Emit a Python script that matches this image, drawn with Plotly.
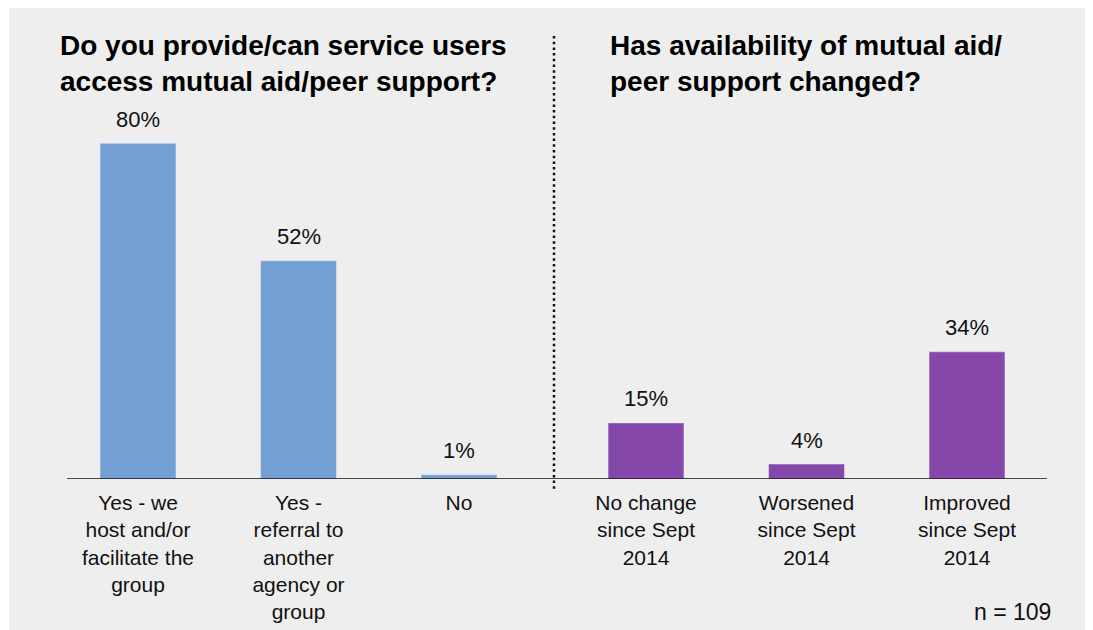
import plotly.graph_objects as go

# ---- data ----
left_categories = [
    "Yes - we<br>host and/or<br>facilitate the<br>group",
    "Yes -<br>referral to<br>another<br>agency or<br>group",
    "No",
]
left_values = [80, 52, 1]

right_categories = [
    "No change<br>since Sept<br>2014",
    "Worsened<br>since Sept<br>2014",
    "Improved<br>since Sept<br>2014",
]
right_values = [15, 4, 34]

left_title = "Do you provide/can service users<br>access mutual aid/peer support?"
right_title = "Has availability of mutual aid/<br>peer support changed?"
sample_note = "n = 109"

# ---- styling ----
OFF = 8  # page body margin
W, H = 1093 - OFF, 630 - OFF
BLUE = "#739fd4"
PURPLE = "#8647ab"
BG = "#eeeeee"
FONT = "Liberation Sans, Arial, Helvetica, sans-serif"


def px_x(p):
    return (p - OFF) / W


def px_y(p):
    return (H - (p - OFF)) / H


fig = go.Figure()

fig.add_trace(go.Bar(x=left_categories, y=left_values, marker_color=BLUE,
                     xaxis="x", yaxis="y", hoverinfo="skip", showlegend=False))
fig.add_trace(go.Bar(x=right_categories, y=right_values, marker_color=PURPLE,
                     xaxis="x2", yaxis="y2", hoverinfo="skip", showlegend=False))

annotations = []
for cat, val in zip(left_categories, left_values):
    annotations.append(dict(x=cat, y=val, xref="x", yref="y", text=f"{val}%",
                            showarrow=False, yanchor="middle", yshift=24,
                            font=dict(size=22, color="#111111", family=FONT)))
for cat, val in zip(right_categories, right_values):
    annotations.append(dict(x=cat, y=val, xref="x2", yref="y2", text=f"{val}%",
                            showarrow=False, yanchor="middle", yshift=24,
                            font=dict(size=22, color="#111111", family=FONT)))

annotations.append(dict(x=px_x(58), y=px_y(63), xref="paper", yref="paper",
                        text=f"<b>{left_title}</b>", showarrow=False,
                        xanchor="left", yanchor="middle", align="left",
                        font=dict(size=28, color="#000000", family=FONT)))
annotations.append(dict(x=px_x(608), y=px_y(63), xref="paper", yref="paper",
                        text=f"<b>{right_title}</b>", showarrow=False,
                        xanchor="left", yanchor="middle", align="left",
                        font=dict(size=28, color="#000000", family=FONT)))
annotations.append(dict(x=px_x(1053), y=px_y(612), xref="paper", yref="paper",
                        text=sample_note, showarrow=False,
                        xanchor="right", yanchor="middle",
                        font=dict(size=23, color="#111111", family=FONT)))

shapes = [
    dict(type="rect", xref="paper", yref="paper", x0=px_x(9), x1=px_x(1087),
         y0=px_y(4), y1=px_y(631), fillcolor=BG, line=dict(width=0), layer="below"),
    dict(type="line", xref="paper", yref="y", x0=px_x(67), x1=px_x(1047),
         y0=0, y1=0, line=dict(color="#111111", width=1.5)),
    dict(type="line", xref="paper", yref="paper", x0=px_x(554), x1=px_x(554),
         y0=px_y(36), y1=px_y(492),
         line=dict(color="#111111", width=2.5, dash="2.5px,3.2px")),
]

axis_common = dict(showgrid=False, zeroline=False, showline=False, ticks="",
                   tickfont=dict(size=21, color="#111111", family=FONT),
                   ticklabelstandoff=9, fixedrange=True)

ydom = [px_y(479), px_y(100)]

fig.update_layout(
    width=W, height=H,
    margin=dict(l=0, r=0, t=0, b=0),
    paper_bgcolor="white",
    plot_bgcolor="rgba(0,0,0,0)",
    bargap=0.527,
    font=dict(family=FONT),
    xaxis=dict(domain=[px_x(57.75), px_x(539.25)], anchor="y", type="category", **axis_common),
    xaxis2=dict(domain=[px_x(565.75), px_x(1047.25)], anchor="y2", type="category", **axis_common),
    yaxis=dict(domain=ydom, range=[0, 90.3], visible=False, fixedrange=True, anchor="x"),
    yaxis2=dict(domain=ydom, range=[0, 101.3], visible=False, fixedrange=True, anchor="x2"),
    annotations=annotations,
    shapes=shapes,
)

fig.write_html("out.html")
